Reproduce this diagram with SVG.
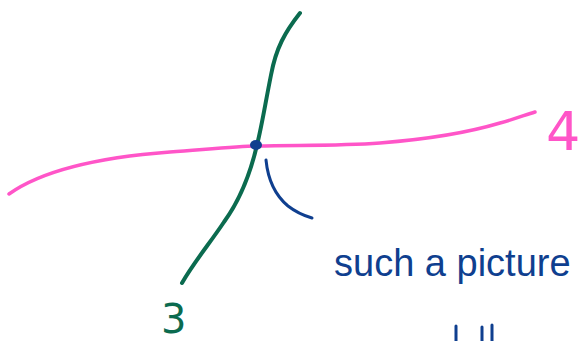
<svg xmlns="http://www.w3.org/2000/svg" width="584" height="341" viewBox="0 0 584 341">
<style>
.line{fill:none;stroke-linecap:round;stroke-linejoin:round}
.green{stroke:#0b6b4f;stroke-width:4}
.pink{stroke:#ff55c8;stroke-width:3.5}
.blue{stroke:#0f3f8f;stroke-width:3}
.hand{font-family:"DejaVu Sans","Liberation Sans",sans-serif;font-weight:normal}
.label{font-family:"Liberation Sans",Arial,sans-serif;font-weight:normal}
</style>
<rect width="584" height="341" fill="#ffffff"/>
<g id="curve-3">
<path class="line green" d="M300,13 C285,32 276,48 271,75 C265,105 262,125 257,145 C250,175 240,200 224,222 C210,243 194,262 182,283"/>
<text class="hand" x="161" y="333" font-size="40" fill="#0b6b4f">3</text>
</g>
<g id="curve-4">
<path class="line pink" d="M9,194 C40,172 90,158 170,152 C210,149 240,146 257,146 C300,145 340,146 380,143 C430,139 470,132 500,123 C515,119 525,115 535,112"/>
<text class="hand" x="546" y="150" font-size="54" fill="#ff55c8">4</text>
</g>
<g id="point">
<ellipse cx="256" cy="145" rx="6" ry="5" fill="#0f3f8f"/>
</g>
<g id="connectors">
<path class="line blue" d="M266,160 C268,180 276,196 288,206 C297,213 305,216 312,218"/>
</g>
<g id="label">
<text class="label" x="334" y="276" font-size="38" fill="#0f3f8f">such a picture</text>
<path class="line blue" d="M456,326 L456,341 M482,327 L482,341 M492,325 L492,341"/>
</g>
</svg>
